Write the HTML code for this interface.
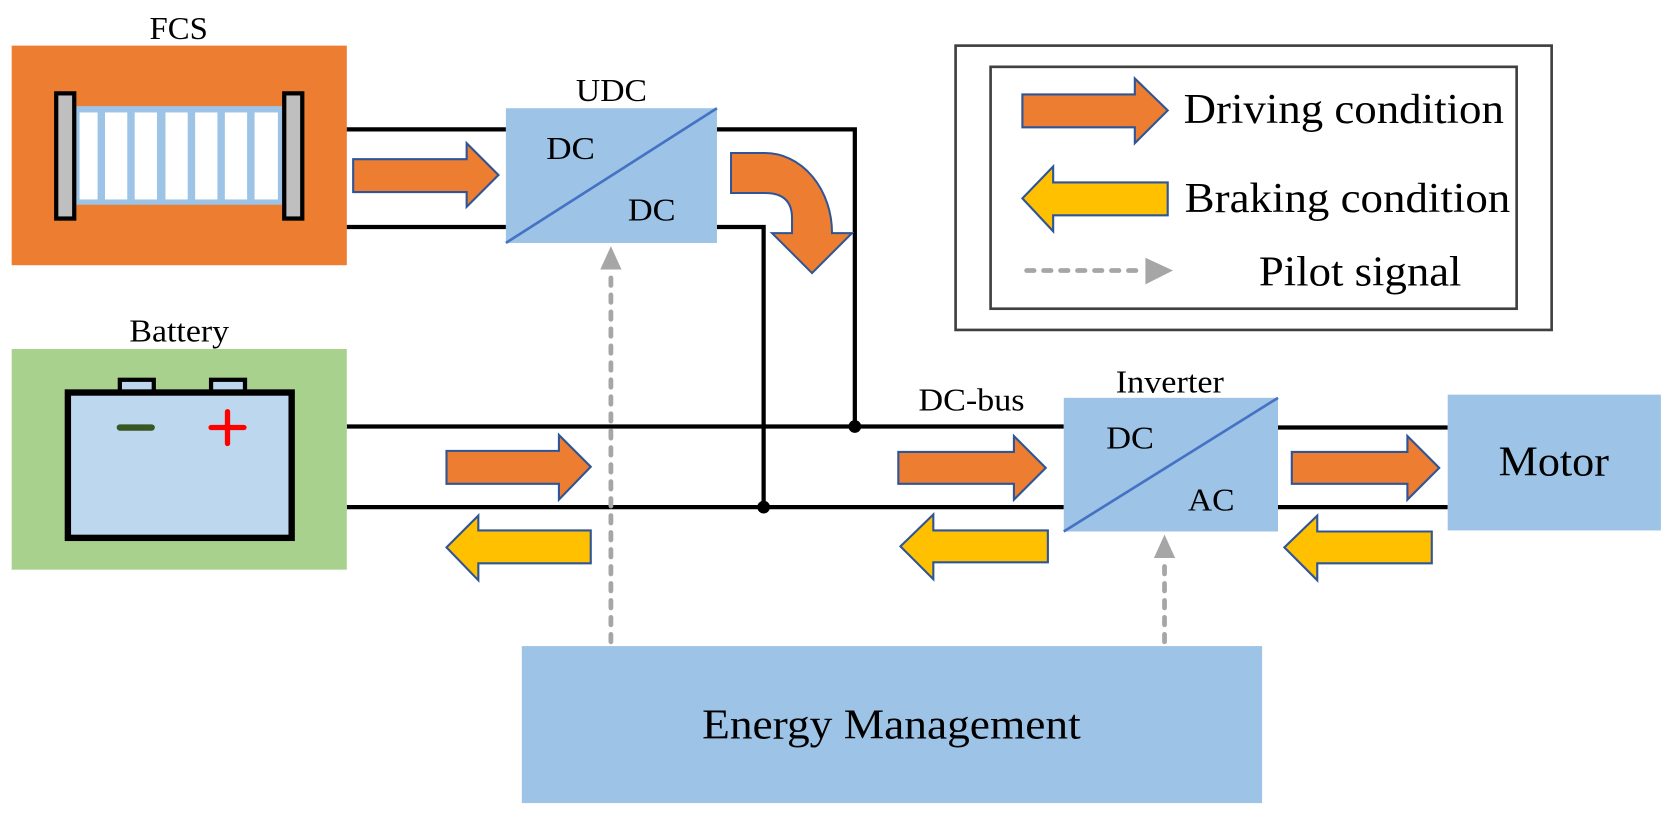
<!DOCTYPE html>
<html><head><meta charset="utf-8"><style>html,body{margin:0;padding:0;background:#fff;overflow:hidden}svg{display:block}text{font-family:"Liberation Serif",serif;fill:#000}</style></head>
<body>
<svg width="1663" height="819" viewBox="0 0 1568 772" preserveAspectRatio="none" xmlns="http://www.w3.org/2000/svg">
<!-- FCS -->
<text x="141" y="37" font-size="30" textLength="55" lengthAdjust="spacingAndGlyphs">FCS</text>
<rect x="11" y="43" width="316" height="207" fill="#ED7D31"/>
<rect x="71" y="100" width="195" height="93" fill="#9DC3E6"/>
<g fill="#fff">
<rect x="75" y="106" width="17" height="82"/><rect x="99" y="106" width="21" height="82"/><rect x="127" y="106" width="21" height="82"/><rect x="156" y="106" width="21" height="82"/><rect x="184" y="106" width="21" height="82"/><rect x="212" y="106" width="21" height="82"/><rect x="240" y="106" width="22" height="82"/>
</g>
<rect x="53" y="88" width="17" height="118" fill="#bfbfbf" stroke="#000" stroke-width="4"/>
<rect x="268" y="88" width="17" height="118" fill="#bfbfbf" stroke="#000" stroke-width="4"/>
<!-- wires -->
<g stroke="#000" stroke-width="4" fill="none">
<line x1="327" y1="122" x2="477" y2="122"/>
<line x1="327" y1="214" x2="477" y2="214"/>
<polyline points="676,122 806,122 806,402"/>
<polyline points="676,214 720,214 720,478"/>
<line x1="327" y1="402" x2="1003" y2="402"/>
<line x1="327" y1="478" x2="1003" y2="478"/>
<line x1="1205" y1="403" x2="1365" y2="403"/>
<line x1="1205" y1="478" x2="1365" y2="478"/>
</g>
<circle cx="806" cy="402" r="6"/><circle cx="720" cy="478" r="6"/>
<!-- UDC -->
<text x="543" y="95" font-size="30" textLength="67" lengthAdjust="spacingAndGlyphs">UDC</text>
<rect x="477" y="102" width="199" height="127" fill="#9DC3E6"/>
<line x1="477" y1="229" x2="676" y2="102" stroke="#4472C4" stroke-width="2.5"/>
<text x="515" y="150" font-size="30" textLength="46" lengthAdjust="spacingAndGlyphs">DC</text>
<text x="592" y="208" font-size="30" textLength="45" lengthAdjust="spacingAndGlyphs">DC</text>
<!-- arrows -->
<g stroke="#2F5597" stroke-width="2" stroke-linejoin="miter">
<path d="M333,150 L440,150 L440,135 L470,165 L440,195 L440,181 L333,181 Z" fill="#ED7D31"/>
<g transform="scale(0.9429)"><path d="M731,153 L765,153 A67,80 0 0 1 832,233 L852,233 L812,273 L772,233 L792,233 L792,218 Q792,193 765,193 L731,193 Z" fill="#ED7D31"/></g>
<path d="M421,425 L527,425 L527,410 L557,440 L527,471 L527,456 L421,456 Z" fill="#ED7D31"/>
<path d="M557,500 L451,500 L451,486 L421,516 L451,547 L451,531 L557,531 Z" fill="#FFC000"/>
<path d="M847,426 L956,426 L956,411 L986,441 L956,471 L956,456 L847,456 Z" fill="#ED7D31"/>
<path d="M988,500 L880,500 L880,485 L849,515 L880,546 L880,530 L988,530 Z" fill="#FFC000"/>
<path d="M1218,426 L1327,426 L1327,411 L1357,441 L1327,471 L1327,456 L1218,456 Z" fill="#ED7D31"/>
<path d="M1350,501 L1242,501 L1242,486 L1211,516 L1242,547 L1242,531 L1350,531 Z" fill="#FFC000"/>
<path d="M964,89 L1070,89 L1070,74 L1101,104 L1070,135 L1070,120 L964,120 Z" fill="#ED7D31"/>
<path d="M1101,172 L993,172 L993,157 L964,187 L993,218 L993,203 L1101,203 Z" fill="#FFC000"/>
</g>
<!-- Battery -->
<text x="122" y="322" font-size="30" textLength="94" lengthAdjust="spacingAndGlyphs">Battery</text>
<rect x="11" y="329" width="316" height="208" fill="#A9D18E"/>
<rect x="113" y="358" width="32" height="12" fill="#BDD7EE" stroke="#000" stroke-width="4"/>
<rect x="199" y="358" width="32" height="12" fill="#BDD7EE" stroke="#000" stroke-width="4"/>
<rect x="64" y="370" width="211" height="137" fill="#BDD7EE" stroke="#000" stroke-width="6"/>
<line x1="113" y1="403" x2="143" y2="403" stroke="#385723" stroke-width="6" stroke-linecap="round"/>
<line x1="199" y1="403" x2="230" y2="403" stroke="#f00" stroke-width="5" stroke-linecap="round"/>
<line x1="214.5" y1="388" x2="214.5" y2="418" stroke="#f00" stroke-width="5" stroke-linecap="round"/>
<!-- Inverter -->
<text x="866" y="387" font-size="30" textLength="100" lengthAdjust="spacingAndGlyphs">DC-bus</text>
<text x="1052" y="370" font-size="30" textLength="102" lengthAdjust="spacingAndGlyphs">Inverter</text>
<rect x="1003" y="375" width="202" height="126" fill="#9DC3E6"/>
<line x1="1003" y1="501" x2="1205" y2="375" stroke="#4472C4" stroke-width="2.5"/>
<text x="1043" y="423" font-size="30" textLength="45" lengthAdjust="spacingAndGlyphs">DC</text>
<text x="1120" y="481" font-size="30" textLength="44" lengthAdjust="spacingAndGlyphs">AC</text>
<!-- Motor -->
<rect x="1365" y="372" width="201" height="128" fill="#9DC3E6"/>
<text x="1413" y="448" font-size="40" textLength="104" lengthAdjust="spacingAndGlyphs">Motor</text>
<!-- Energy Management -->
<rect x="492" y="609" width="698" height="148" fill="#9DC3E6"/>
<text x="662" y="696" font-size="40" textLength="357" lengthAdjust="spacingAndGlyphs">Energy Management</text>
<!-- pilot signals -->
<g stroke="#a6a6a6" stroke-width="4.5" stroke-linecap="round" stroke-dasharray="7 9" fill="none">
<line x1="576" y1="605" x2="576" y2="256"/>
<line x1="1098" y1="605" x2="1098" y2="528"/>
<line x1="968" y1="255" x2="1078" y2="255"/>
</g>
<g fill="#a6a6a6">
<path d="M566,254 L576,232 L586,254 Z"/>
<path d="M1088,526 L1098,504 L1108,526 Z"/>
<path d="M1080,243 L1106,255 L1080,268 Z"/>
</g>
<!-- Legend -->
<rect x="901" y="43" width="562" height="268" fill="none" stroke="#404040" stroke-width="2.5"/>
<rect x="934" y="63" width="496" height="228" fill="none" stroke="#404040" stroke-width="2.5"/>
<text x="1116" y="116" font-size="40" textLength="302" lengthAdjust="spacingAndGlyphs">Driving condition</text>
<text x="1117" y="200" font-size="40" textLength="307" lengthAdjust="spacingAndGlyphs">Braking condition</text>
<text x="1187" y="269" font-size="40" textLength="191" lengthAdjust="spacingAndGlyphs">Pilot signal</text>
</svg>
</body></html>
